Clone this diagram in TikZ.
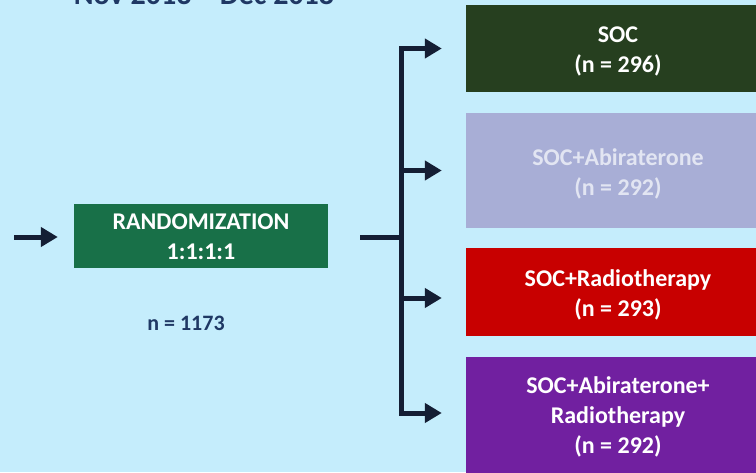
\documentclass[tikz,border=0pt]{standalone}
\usepackage{fontspec}
\setmainfont{Carlito}
\usetikzlibrary{arrows.meta}

\definecolor{bgblue}{RGB}{197,237,252}
\definecolor{navy}{RGB}{20,30,52}
\definecolor{titleblue}{RGB}{31,56,100}
\definecolor{randgreen}{RGB}{24,112,72}
\definecolor{socgreen}{RGB}{38,63,31}
\definecolor{lavender}{RGB}{168,174,214}
\definecolor{lavtext}{RGB}{226,229,242}
\definecolor{armred}{RGB}{200,0,0}
\definecolor{armpurple}{RGB}{113,32,160}

\begin{document}
\begin{tikzpicture}[x=1pt,y=-1pt,
  armbox/.style={rectangle, inner sep=0pt, minimum width=304pt},
  armtext/.style={inner sep=0pt, align=center, text=white,
    font=\fontsize{24}{30}\selectfont\bfseries},
  line/.style={draw=navy, line width=5pt},
  conn/.style={line, -{Triangle[length=17pt,width=19pt]}}]
  \useasboundingbox (0,0) rectangle (756,472);
  \fill[bgblue] (0,0) rectangle (756,472);
  \clip (0,0) rectangle (756,472);

  % period of enrolment (runs off the top edge)
  \node[anchor=base, text=titleblue, font=\fontsize{30}{36}\selectfont\bfseries,
    inner sep=0pt] (period) at (204,4) {Nov 2013 – Dec 2018};

  % randomisation
  \node[rectangle, fill=randgreen, minimum width=254pt, minimum height=64pt,
    inner sep=0pt] (rand) at (201,236) {};
  \node[armtext] (randtext) at ([yshift=-1pt]rand.center) {RANDOMIZATION\\1:1:1:1};
  \node[text=titleblue, font=\fontsize{22}{26}\selectfont\bfseries] (total)
    at (186,323) {n = 1173};

  % treatment arms (yshift is in page units: negative moves down)
  \node[armbox, fill=socgreen, minimum height=87pt] (soc) at (618,48.5) {};
  \node[armtext] (soctext) at ([yshift=-3pt]soc.center) {SOC\\(n = 296)};

  \node[armbox, fill=lavender, minimum height=115pt] (sa) at (618,170.5) {};
  \node[armtext, text=lavtext] (satext) at ([yshift=-3pt]sa.center)
    {SOC+Abiraterone\\(n = 292)};

  \node[armbox, fill=armred, minimum height=88pt] (sr) at (618,292) {};
  \node[armtext] (srtext) at ([yshift=-3pt]sr.center) {SOC+Radiotherapy\\(n = 293)};

  \node[armbox, fill=armpurple, minimum height=120pt] (sar) at (618,417) {};
  \node[armtext] (sartext) at (sar.center)
    {SOC+Abiraterone+\\Radiotherapy\\(n = 292)};

  % incoming arrow
  \coordinate (entry) at (14,237);
  \draw[conn] (entry) -- ([xshift=-16pt]rand.west |- entry);

  % branching connectors
  \coordinate (split) at (360,237);
  \coordinate (hub) at (401,237);
  \draw[line] (split) -- (hub);
  \draw[conn] (hub) |- ([xshift=-24pt]soc.west);
  \draw[conn] (hub) |- ([xshift=-24pt]sa.west);
  \draw[conn] (hub) |- ([xshift=-24pt,yshift=-6pt]sr.west);
  \draw[conn] (hub) |- ([xshift=-24pt,yshift=4pt]sar.west);
\end{tikzpicture}
\end{document}
